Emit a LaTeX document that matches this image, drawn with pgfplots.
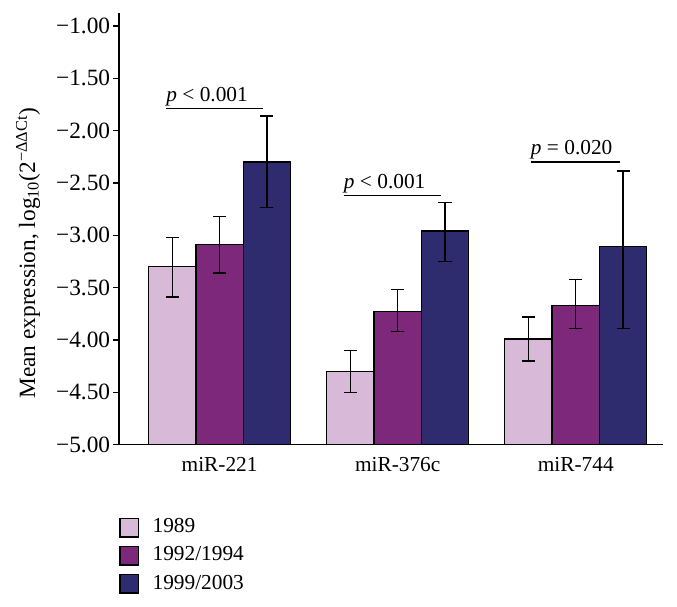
\documentclass[border=0pt]{standalone}
\usepackage{fontspec}
\setmainfont{Liberation Serif}
\usepackage{pgfplots}
\usepackage{pgfplotstable}
\pgfplotsset{compat=1.18}
\definecolor{cA}{RGB}{216,186,216}
\definecolor{cB}{RGB}{125,40,122}
\definecolor{cC}{RGB}{46,43,110}
% x: 0=miR-221, 1=miR-376c, 2=miR-744 ; m = mean, ep/em = error up/down
\pgfplotstableread{
x m ep em
0 -3.30 0.28 0.29
1 -4.30 0.20 0.20
2 -3.99 0.21 0.21
}\tA
\pgfplotstableread{
x m ep em
0 -3.09 0.27 0.27
1 -3.73 0.21 0.19
2 -3.67 0.25 0.22
}\tB
\pgfplotstableread{
x m ep em
0 -2.30 0.44 0.435
1 -2.96 0.27 0.29
2 -3.11 0.725 0.78
}\tC
\begin{document}
\fontsize{16}{19}\selectfont
\begin{tikzpicture}
\path[use as bounding box] (0pt,0pt) rectangle (507.75pt,454.5pt);
\begin{axis}[
  at={(89.25pt,120.98pt)}, anchor=south west,
  scale only axis, width=408pt, height=323.55pt,
  xmin=-0.565, xmax=2.49, ymin=0, ymax=4.12,
  axis lines=left, axis line style={-, line width=1pt},
  ybar=0pt, bar width=35.5pt,
  xtick={0,1,2}, xticklabels={miR-221,miR-376c,miR-744},
  major x tick style={draw=none},
  ytick={0,0.5,...,4},
  yticklabels={−5.00,−4.50,−4.00,−3.50,−3.00,−2.50,−2.00,−1.50,−1.00},
  yticklabel style={xshift=3.2pt, font=\fontsize{17.5}{20}\selectfont},
  tick align=outside, major tick length=4.3pt,
  major y tick style={line width=1pt, black},
  ylabel={Mean expression, log\textsubscript{10}(2\textsuperscript{−ΔΔCt})},
  ylabel style={at={(axis description cs:-0.167,0.444)}, anchor=center, rotate=0, font=\fontsize{17.5}{20}\selectfont},
  legend style={at={(axis description cs:0.0,-0.165)}, anchor=north west, draw=none, fill=none,
    inner sep=0pt, row sep=4pt, font=\fontsize{16}{19}\selectfont},
  legend cell align=left,
  legend image code/.code={\draw[#1,draw=black,line width=1pt] (0pt,-7pt) rectangle (14pt,7pt); \path (22pt,0pt);},
  error bars/error bar style={line width=1pt, black},
  error bars/error mark options={rotate=90, mark size=4.9pt, line width=1pt, black},
]
\addplot[fill=cA, draw=black, line width=1pt, error bars/.cd, y dir=both, y explicit]
  table[x=x, y expr=\thisrow{m}+5, y error plus=ep, y error minus=em]{\tA};
\addplot[fill=cB, draw=black, line width=1pt, error bars/.cd, y dir=both, y explicit]
  table[x=x, y expr=\thisrow{m}+5, y error plus=ep, y error minus=em]{\tB};
\addplot[fill=cC, draw=black, line width=1pt, error bars/.cd, y dir=both, y explicit]
  table[x=x, y expr=\thisrow{m}+5, y error plus=ep, y error minus=em]{\tC};
\legend{1989,1992/1994,1999/2003}
\draw[line width=1pt] (axis cs:-0.30,3.21) -- (axis cs:0.245,3.21);
\node[anchor=south west, inner xsep=0pt, inner ysep=2pt] at (axis cs:-0.30,3.21) {\textit{p} < 0.001};
\draw[line width=1pt] (axis cs:0.697,2.38) -- (axis cs:1.245,2.38);
\node[anchor=south west, inner xsep=0pt, inner ysep=2pt] at (axis cs:0.697,2.38) {\textit{p} < 0.001};
\draw[line width=1pt] (axis cs:1.747,2.70) -- (axis cs:2.251,2.70);
\node[anchor=south west, inner xsep=0pt, inner ysep=2pt] at (axis cs:1.747,2.70) {\textit{p} = 0.020};
\end{axis}
\end{tikzpicture}
\end{document}
